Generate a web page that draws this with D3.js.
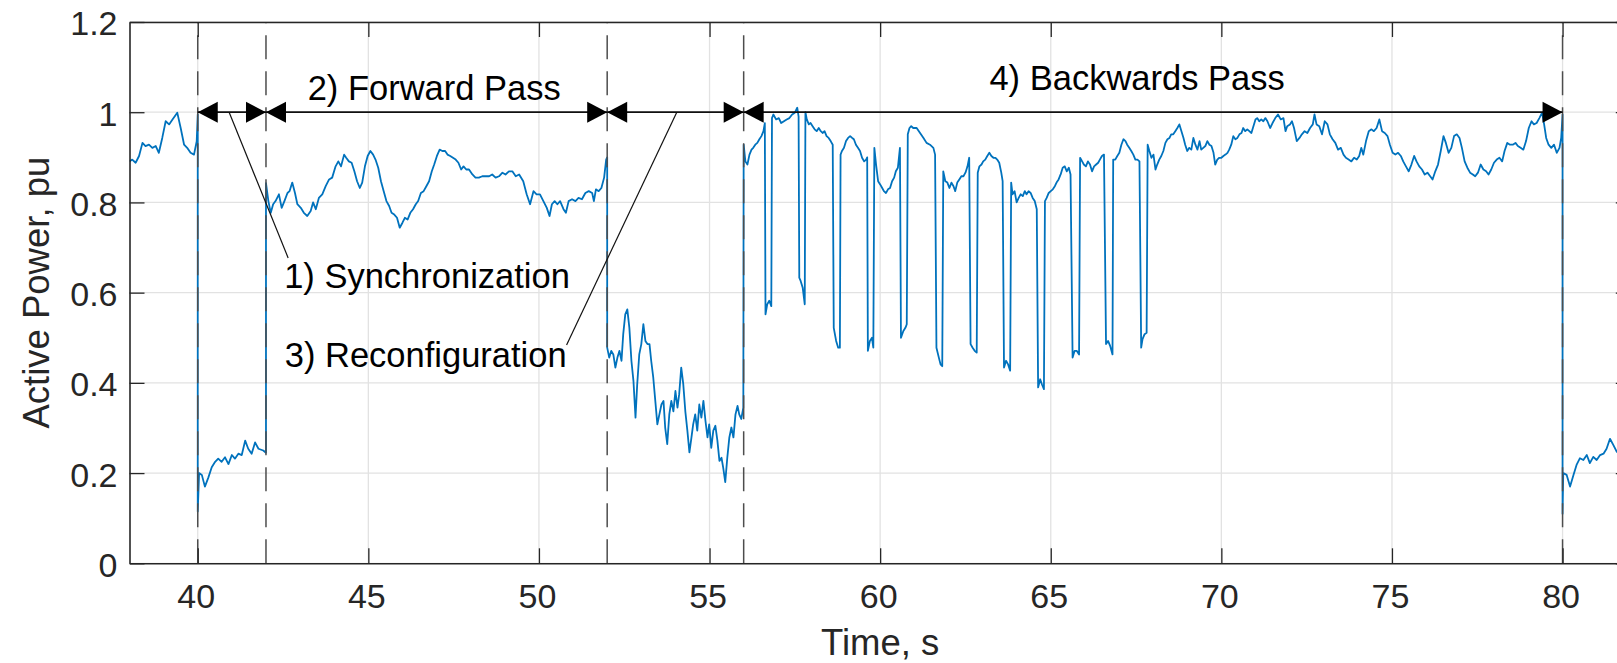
<!DOCTYPE html>
<html>
<head>
<meta charset="utf-8">
<script src="https://cdn.jsdelivr.net/npm/d3@7"></script>
<style>
  html, body { margin: 0; padding: 0; background: #fff; }
  svg { display: block; font-family: "Liberation Sans", Arial, Helvetica, sans-serif; }
</style>
</head>
<body>
<svg id="chart" width="1617" height="663"></svg>
<script>
'use strict';

// axis ticks
var xTicks = [40, 45, 50, 55, 60, 65, 70, 75, 80];
var yTicks = [0, 0.2, 0.4, 0.6, 0.8, 1, 1.2];

// phase boundaries (s) and the labels drawn over the arrows
var phaseEdges = [40, 42, 52, 56, 80];
var phaseNames = ['1) Synchronization', '2) Forward Pass', '3) Reconfiguration', '4) Backwards Pass'];

var beforeSync = [
    [38.0, 0.891], [38.08, 0.895], [38.18, 0.888], [38.28, 0.903], [38.38, 0.932], [38.47, 0.925],
    [38.57, 0.928], [38.67, 0.921], [38.77, 0.925], [38.86, 0.91], [38.96, 0.943], [39.06, 0.98],
    [39.16, 0.973], [39.26, 0.984], [39.4, 0.999], [39.5, 0.965], [39.6, 0.928], [39.69, 0.921],
    [39.79, 0.91], [39.89, 0.906], [39.97, 0.936], [40.0, 0.995]
];

var syncPhase = [
    [40.0, 0.115], [40.04, 0.2], [40.12, 0.196], [40.21, 0.17], [40.31, 0.19], [40.41, 0.213],
    [40.51, 0.225], [40.6, 0.232], [40.7, 0.225], [40.8, 0.235], [40.9, 0.22], [41.0, 0.24],
    [41.09, 0.232], [41.19, 0.243], [41.29, 0.24], [41.39, 0.272], [41.48, 0.254], [41.58, 0.243],
    [41.68, 0.268], [41.78, 0.254], [41.92, 0.25], [42.0, 0.245]
];

var forwardPhase = [
    [42.0, 0.843], [42.07, 0.803], [42.14, 0.777], [42.21, 0.796], [42.28, 0.803], [42.38, 0.818],
    [42.46, 0.788], [42.54, 0.803], [42.63, 0.821], [42.69, 0.825], [42.77, 0.844], [42.85, 0.821],
    [42.92, 0.796], [43.02, 0.788], [43.11, 0.777], [43.21, 0.77], [43.31, 0.781], [43.38, 0.8],
    [43.46, 0.785], [43.55, 0.81], [43.65, 0.818], [43.75, 0.836], [43.85, 0.851], [43.94, 0.855],
    [44.04, 0.88], [44.12, 0.891], [44.2, 0.88], [44.29, 0.906], [44.35, 0.899], [44.43, 0.891],
    [44.51, 0.888], [44.59, 0.869], [44.67, 0.847], [44.75, 0.832], [44.82, 0.844], [44.9, 0.88],
    [44.98, 0.903], [45.06, 0.914], [45.14, 0.906], [45.21, 0.895], [45.29, 0.877], [45.37, 0.847],
    [45.45, 0.825], [45.53, 0.803], [45.61, 0.792], [45.68, 0.777], [45.76, 0.773], [45.84, 0.766],
    [45.92, 0.744], [46.0, 0.755], [46.07, 0.766], [46.15, 0.762], [46.23, 0.777], [46.31, 0.785],
    [46.39, 0.796], [46.46, 0.803], [46.54, 0.821], [46.62, 0.825], [46.7, 0.836], [46.78, 0.847],
    [46.86, 0.869], [46.93, 0.884], [47.01, 0.903], [47.09, 0.917], [47.17, 0.914], [47.25, 0.914],
    [47.32, 0.906], [47.4, 0.903], [47.48, 0.899], [47.56, 0.895], [47.64, 0.888], [47.72, 0.873],
    [47.79, 0.88], [47.87, 0.873], [47.95, 0.873], [48.05, 0.862], [48.14, 0.855], [48.24, 0.855],
    [48.34, 0.858], [48.44, 0.858], [48.54, 0.858], [48.63, 0.862], [48.73, 0.855], [48.83, 0.858],
    [48.93, 0.866], [49.02, 0.862], [49.12, 0.869], [49.22, 0.869], [49.32, 0.858], [49.42, 0.862],
    [49.54, 0.847], [49.64, 0.818], [49.74, 0.796], [49.84, 0.825], [49.93, 0.818], [50.03, 0.818],
    [50.13, 0.803], [50.23, 0.788], [50.31, 0.77], [50.38, 0.796], [50.46, 0.803], [50.54, 0.796],
    [50.62, 0.803], [50.72, 0.785], [50.79, 0.777], [50.87, 0.803], [50.97, 0.807], [51.07, 0.803],
    [51.16, 0.81], [51.26, 0.807], [51.36, 0.821], [51.46, 0.825], [51.56, 0.821], [51.61, 0.803],
    [51.67, 0.829], [51.75, 0.825], [51.83, 0.832], [51.91, 0.855], [51.97, 0.895], [52.0, 0.9]
];

var reconfigPhase = [
    [52.0, 0.478], [52.06, 0.456], [52.12, 0.471], [52.18, 0.463], [52.24, 0.434], [52.3, 0.456],
    [52.36, 0.471], [52.42, 0.449], [52.47, 0.508], [52.53, 0.552], [52.59, 0.563], [52.65, 0.522],
    [52.71, 0.449], [52.77, 0.404], [52.83, 0.323], [52.88, 0.397], [52.94, 0.463], [53.0, 0.486],
    [53.06, 0.53], [53.12, 0.493], [53.18, 0.486], [53.24, 0.486], [53.29, 0.449], [53.35, 0.412],
    [53.41, 0.36], [53.47, 0.308], [53.53, 0.33], [53.59, 0.352], [53.65, 0.36], [53.7, 0.301],
    [53.76, 0.264], [53.82, 0.33], [53.88, 0.36], [53.94, 0.337], [54.0, 0.382], [54.06, 0.345],
    [54.11, 0.375], [54.17, 0.434], [54.23, 0.397], [54.29, 0.337], [54.35, 0.294], [54.41, 0.246],
    [54.47, 0.279], [54.52, 0.308], [54.58, 0.33], [54.64, 0.294], [54.7, 0.352], [54.76, 0.323],
    [54.82, 0.36], [54.88, 0.316], [54.94, 0.279], [54.99, 0.308], [55.05, 0.256], [55.11, 0.294],
    [55.17, 0.305], [55.23, 0.272], [55.29, 0.227], [55.35, 0.234], [55.4, 0.212], [55.46, 0.18],
    [55.52, 0.234], [55.58, 0.279], [55.64, 0.301], [55.7, 0.279], [55.76, 0.33], [55.82, 0.349],
    [55.87, 0.33], [55.93, 0.32], [55.99, 0.345]
];

var backwardPhase = [
    [56.0, 0.928], [56.05, 0.891], [56.11, 0.884], [56.17, 0.906], [56.23, 0.917], [56.28, 0.921],
    [56.34, 0.928], [56.4, 0.932], [56.46, 0.94], [56.52, 0.947], [56.58, 0.958], [56.62, 0.976],
    [56.64, 0.552], [56.69, 0.574], [56.75, 0.582], [56.81, 0.57], [56.83, 0.987],
    [56.87, 0.995], [56.95, 0.984], [57.03, 0.987], [57.1, 0.976], [57.18, 0.98], [57.26, 0.984],
    [57.34, 0.987], [57.42, 0.995], [57.5, 0.999], [57.57, 1.01], [57.61, 0.99],
    [57.63, 0.633], [57.67, 0.626], [57.73, 0.611], [57.79, 0.574], [57.81, 1.0],
    [57.85, 0.984], [57.91, 0.973], [57.96, 0.976], [58.02, 0.969], [58.08, 0.962], [58.14, 0.958],
    [58.2, 0.965], [58.26, 0.958], [58.32, 0.954], [58.37, 0.958], [58.43, 0.947], [58.49, 0.943],
    [58.55, 0.936], [58.61, 0.928],
    [58.64, 0.522], [58.71, 0.493], [58.77, 0.478], [58.82, 0.478], [58.84, 0.906],
    [58.88, 0.914], [58.94, 0.921], [59.0, 0.936], [59.06, 0.943], [59.12, 0.947], [59.18, 0.943],
    [59.23, 0.94], [59.29, 0.928], [59.35, 0.921], [59.41, 0.914], [59.47, 0.899], [59.53, 0.891],
    [59.59, 0.895], [59.62, 0.9],
    [59.64, 0.471], [59.7, 0.493], [59.76, 0.5], [59.8, 0.478], [59.83, 0.921],
    [59.88, 0.884], [59.94, 0.847], [60.0, 0.84], [60.06, 0.832], [60.11, 0.825], [60.17, 0.821],
    [60.23, 0.829], [60.29, 0.832], [60.35, 0.847], [60.41, 0.855], [60.46, 0.869], [60.52, 0.877],
    [60.58, 0.921],
    [60.61, 0.5], [60.68, 0.515], [60.74, 0.522], [60.78, 0.53], [60.81, 0.951],
    [60.86, 0.965], [60.91, 0.969], [60.97, 0.965], [61.07, 0.965], [61.17, 0.954], [61.27, 0.943],
    [61.36, 0.932], [61.46, 0.928], [61.56, 0.921], [61.61, 0.906],
    [61.65, 0.478], [61.72, 0.456], [61.77, 0.441], [61.82, 0.437], [61.85, 0.869],
    [61.91, 0.847], [61.97, 0.844], [62.03, 0.832], [62.09, 0.844], [62.15, 0.836], [62.2, 0.825],
    [62.26, 0.844], [62.32, 0.851], [62.38, 0.858], [62.44, 0.858], [62.5, 0.866], [62.56, 0.88],
    [62.61, 0.899],
    [62.65, 0.486], [62.71, 0.478], [62.77, 0.471], [62.83, 0.467], [62.86, 0.866],
    [62.91, 0.88], [62.97, 0.884], [63.02, 0.891], [63.08, 0.895], [63.14, 0.903], [63.2, 0.91],
    [63.26, 0.903], [63.32, 0.899], [63.38, 0.899], [63.43, 0.895], [63.49, 0.888], [63.55, 0.866],
    [63.59, 0.847],
    [63.63, 0.434], [63.69, 0.449], [63.75, 0.441], [63.81, 0.427], [63.84, 0.844],
    [63.88, 0.818], [63.94, 0.825], [64.0, 0.8], [64.06, 0.81], [64.12, 0.818], [64.18, 0.814],
    [64.24, 0.825], [64.29, 0.818], [64.35, 0.825], [64.41, 0.821], [64.47, 0.81], [64.53, 0.803],
    [64.59, 0.785],
    [64.63, 0.39], [64.69, 0.408], [64.74, 0.397], [64.8, 0.386], [64.83, 0.803],
    [64.88, 0.81], [64.94, 0.821], [65.0, 0.825], [65.06, 0.829], [65.12, 0.836], [65.17, 0.844],
    [65.23, 0.851], [65.29, 0.862], [65.35, 0.877], [65.41, 0.88], [65.47, 0.869], [65.53, 0.877],
    [65.58, 0.862],
    [65.64, 0.456], [65.7, 0.471], [65.76, 0.471], [65.83, 0.463], [65.86, 0.899],
    [65.92, 0.891], [65.97, 0.884], [66.03, 0.88], [66.09, 0.891], [66.15, 0.884], [66.21, 0.869],
    [66.27, 0.88], [66.33, 0.884], [66.39, 0.888], [66.44, 0.895], [66.5, 0.903], [66.56, 0.906],
    [66.62, 0.486], [66.68, 0.493], [66.74, 0.482], [66.81, 0.463], [66.83, 0.895],
    [66.89, 0.895], [66.95, 0.903], [67.01, 0.91], [67.07, 0.928], [67.13, 0.94], [67.19, 0.936],
    [67.24, 0.928], [67.3, 0.921], [67.36, 0.914], [67.42, 0.906], [67.48, 0.895], [67.54, 0.895],
    [67.6, 0.891],
    [67.65, 0.478], [67.69, 0.497], [67.75, 0.508], [67.81, 0.511], [67.84, 0.928],
    [67.89, 0.914], [67.95, 0.899], [68.01, 0.906], [68.07, 0.873], [68.12, 0.884], [68.18, 0.895],
    [68.24, 0.903], [68.3, 0.914], [68.36, 0.932], [68.42, 0.94], [68.48, 0.943], [68.53, 0.951],
    [68.59, 0.951], [68.65, 0.958], [68.71, 0.965], [68.77, 0.973], [68.83, 0.958], [68.89, 0.943],
    [68.94, 0.928], [69.0, 0.914], [69.06, 0.921], [69.12, 0.917], [69.18, 0.943], [69.24, 0.928],
    [69.3, 0.917], [69.36, 0.936], [69.41, 0.917], [69.47, 0.921], [69.53, 0.925], [69.59, 0.936],
    [69.65, 0.928], [69.71, 0.925], [69.77, 0.91], [69.82, 0.884], [69.88, 0.895], [69.94, 0.899],
    [70.0, 0.899], [70.06, 0.903], [70.12, 0.906], [70.18, 0.91], [70.23, 0.917], [70.29, 0.928],
    [70.35, 0.947], [70.41, 0.94], [70.47, 0.943], [70.53, 0.951], [70.59, 0.954], [70.64, 0.965],
    [70.7, 0.958], [70.76, 0.962], [70.82, 0.958], [70.88, 0.954], [70.94, 0.969], [71.0, 0.984],
    [71.05, 0.987], [71.11, 0.98], [71.17, 0.984], [71.23, 0.98], [71.29, 0.987], [71.35, 0.98],
    [71.43, 0.965], [71.5, 0.976], [71.58, 0.987], [71.66, 0.995], [71.74, 0.984], [71.82, 0.987],
    [71.88, 0.958], [71.93, 0.969], [72.01, 0.973], [72.07, 0.98], [72.13, 0.965], [72.21, 0.936],
    [72.29, 0.943], [72.36, 0.951], [72.44, 0.958], [72.52, 0.954], [72.6, 0.965], [72.68, 0.973],
    [72.73, 0.995], [72.79, 0.973], [72.87, 0.969], [72.95, 0.951], [73.03, 0.98], [73.11, 0.973],
    [73.18, 0.951], [73.26, 0.94], [73.34, 0.932], [73.42, 0.917], [73.5, 0.921], [73.58, 0.906],
    [73.65, 0.899], [73.73, 0.895], [73.81, 0.891], [73.89, 0.899], [73.97, 0.895], [74.04, 0.903],
    [74.1, 0.921], [74.16, 0.906], [74.24, 0.936], [74.32, 0.958], [74.4, 0.962], [74.47, 0.958],
    [74.55, 0.965], [74.63, 0.984], [74.71, 0.958], [74.79, 0.954], [74.87, 0.947], [74.94, 0.928],
    [75.02, 0.91], [75.1, 0.906], [75.18, 0.91], [75.26, 0.903], [75.33, 0.891], [75.41, 0.88],
    [75.49, 0.869], [75.57, 0.884], [75.65, 0.903], [75.72, 0.891], [75.8, 0.88], [75.88, 0.873],
    [75.96, 0.862], [76.04, 0.866], [76.12, 0.858], [76.19, 0.851], [76.27, 0.869], [76.35, 0.884],
    [76.43, 0.914], [76.51, 0.947], [76.58, 0.932], [76.66, 0.91], [76.74, 0.921], [76.82, 0.947],
    [76.9, 0.951], [76.98, 0.943], [77.05, 0.921], [77.13, 0.891], [77.21, 0.877], [77.29, 0.866],
    [77.37, 0.862], [77.44, 0.858], [77.52, 0.866], [77.6, 0.884], [77.68, 0.873], [77.76, 0.869],
    [77.83, 0.862], [77.91, 0.873], [77.99, 0.888], [78.07, 0.895], [78.15, 0.899], [78.23, 0.891],
    [78.3, 0.914], [78.38, 0.932], [78.46, 0.928], [78.54, 0.928], [78.62, 0.932], [78.69, 0.925],
    [78.77, 0.921], [78.85, 0.917], [78.93, 0.936], [79.01, 0.965], [79.09, 0.98], [79.16, 0.973],
    [79.24, 0.976], [79.32, 0.987], [79.4, 0.999], [79.46, 0.973], [79.52, 0.943], [79.59, 0.928],
    [79.67, 0.921], [79.75, 0.928], [79.83, 0.91], [79.91, 0.921], [79.96, 0.943], [80.0, 0.995]
];

var nextSync = [
    [80.0, 0.11], [80.02, 0.2], [80.12, 0.196], [80.22, 0.17], [80.32, 0.196], [80.41, 0.218],
    [80.51, 0.233], [80.61, 0.229], [80.71, 0.24], [80.8, 0.222], [80.9, 0.236], [81.0, 0.229],
    [81.1, 0.24], [81.2, 0.243], [81.29, 0.254], [81.39, 0.276], [81.49, 0.262], [81.59, 0.247],
    [81.7, 0.255]
];

// annotation anchors in data units
var labelAnchors = [[46.72, 0.610], [46.93, 1.027], [46.68, 0.436], [67.53, 1.050]];
var leaderLines = [
    [[40.92, 1.0], [42.65, 0.677]],
    [[54.04, 1.0], [50.81, 0.484]]
];
var arrowLevel = 1.0;

var power = [].concat(beforeSync, syncPhase, forwardPhase, reconfigPhase, backwardPhase, nextSync);

var svg = d3.select('#chart');
var plot = { left: 129.5, top: 22, right: 1630.8, bottom: 563.3 };
var axisColor = '#262626';

var x = d3.scaleLinear().domain([38, 82]).range([plot.left, plot.right]);
var y = d3.scaleLinear().domain([0, 1.2]).range([plot.bottom, plot.top]);

svg.append('defs').append('clipPath').attr('id', 'plot-clip')
    .append('rect')
    .attr('x', plot.left).attr('y', plot.top)
    .attr('width', plot.right - plot.left).attr('height', plot.bottom - plot.top);

// grid
var grid = svg.append('g').attr('class', 'grid').attr('stroke', '#e2e2e2').attr('stroke-width', 1.3);
grid.selectAll('line.gx').data(xTicks).enter().append('line')
    .attr('class', 'gx')
    .attr('x1', d => x(d)).attr('x2', d => x(d))
    .attr('y1', plot.top).attr('y2', plot.bottom);
grid.selectAll('line.gy').data(yTicks).enter().append('line')
    .attr('class', 'gy')
    .attr('x1', plot.left).attr('x2', plot.right)
    .attr('y1', d => y(d)).attr('y2', d => y(d));

// power trace
var line = d3.line().x(d => x(d[0])).y(d => y(d[1]));
svg.append('path')
    .datum(power)
    .attr('clip-path', 'url(#plot-clip)')
    .attr('fill', 'none')
    .attr('stroke', '#0072BD')
    .attr('stroke-width', 1.8)
    .attr('stroke-linejoin', 'round')
    .attr('d', line);

// dashed phase boundaries
svg.append('g').selectAll('line').data(phaseEdges).enter().append('line')
    .attr('x1', d => x(d)).attr('x2', d => x(d))
    .attr('y1', y(0)).attr('y2', y(1.2))
    .attr('stroke', '#4d4d4d')
    .attr('stroke-width', 1.5)
    .attr('stroke-dasharray', '24,12');

// axes: ticks point inward, box on all four sides
function styleAxis(g) {
    g.selectAll('.domain').attr('stroke', axisColor).attr('stroke-width', 1.6);
    g.selectAll('.tick line').attr('stroke', axisColor).attr('stroke-width', 1.3);
    g.selectAll('.tick text').attr('fill', axisColor).attr('font-size', 34);
}

svg.append('g')
    .attr('transform', 'translate(0,' + plot.bottom + ')')
    .call(d3.axisBottom(x).tickValues(xTicks).tickSizeInner(-15).tickSizeOuter(0).tickPadding(21))
    .call(styleAxis)
    .call(g => g.selectAll('.tick text').attr('dx', -2));

svg.append('g')
    .attr('transform', 'translate(0,' + plot.top + ')')
    .call(d3.axisTop(x).tickValues(xTicks).tickSizeInner(-15).tickSizeOuter(0).tickFormat(''))
    .call(styleAxis);

svg.append('g')
    .attr('transform', 'translate(' + plot.left + ',0)')
    .call(d3.axisLeft(y).tickValues(yTicks).tickSizeInner(-15).tickSizeOuter(0).tickPadding(12)
        .tickFormat(d3.format('~g')))
    .call(styleAxis)
    .call(g => g.selectAll('.tick text').attr('dy', '0.38em'));

svg.append('g')
    .attr('transform', 'translate(' + plot.right + ',0)')
    .call(d3.axisRight(y).tickValues(yTicks).tickSizeInner(-15).tickSizeOuter(0).tickFormat(''))
    .call(styleAxis);

// axis labels
svg.append('text')
    .attr('x', (plot.left + plot.right) / 2)
    .attr('y', 655)
    .attr('text-anchor', 'middle')
    .attr('font-size', 36.5)
    .attr('fill', axisColor)
    .text('Time, s');

svg.append('text')
    .attr('transform', 'translate(49,' + (plot.top + plot.bottom) / 2 + ') rotate(-90)')
    .attr('text-anchor', 'middle')
    .attr('font-size', 36.5)
    .attr('fill', axisColor)
    .text('Active Power, pu');

// phase arrows with filled heads at both ends
var headLen = 20, headHalf = 10.5;
var phases = d3.pairs(phaseEdges);
var arrows = svg.append('g').attr('class', 'arrows');
arrows.selectAll('line').data(phases).enter().append('line')
    .attr('x1', d => x(d[0])).attr('x2', d => x(d[1]))
    .attr('y1', y(arrowLevel)).attr('y2', y(arrowLevel))
    .attr('stroke', '#111')
    .attr('stroke-width', 1.8);

function head(tipX, dir) {
    var ty = y(arrowLevel);
    var bx = tipX + dir * headLen;
    return 'M' + tipX + ',' + ty + 'L' + bx + ',' + (ty - headHalf) + 'L' + bx + ',' + (ty + headHalf) + 'Z';
}
arrows.selectAll('path.left').data(phases).enter().append('path')
    .attr('class', 'left')
    .attr('d', d => head(x(d[0]), 1))
    .attr('fill', '#000');
arrows.selectAll('path.right').data(phases).enter().append('path')
    .attr('class', 'right')
    .attr('d', d => head(x(d[1]), -1))
    .attr('fill', '#000');

// leader lines and phase labels
svg.append('g').selectAll('line').data(leaderLines).enter().append('line')
    .attr('x1', d => x(d[0][0])).attr('y1', d => y(d[0][1]))
    .attr('x2', d => x(d[1][0])).attr('y2', d => y(d[1][1]))
    .attr('stroke', '#111')
    .attr('stroke-width', 1.2);

svg.append('g').selectAll('text').data(phaseNames).enter().append('text')
    .attr('x', (d, i) => x(labelAnchors[i][0]))
    .attr('y', (d, i) => y(labelAnchors[i][1]))
    .attr('text-anchor', 'middle')
    .attr('font-size', 34.5)
    .attr('fill', '#000')
    .text(d => d);
</script>
</body>
</html>
